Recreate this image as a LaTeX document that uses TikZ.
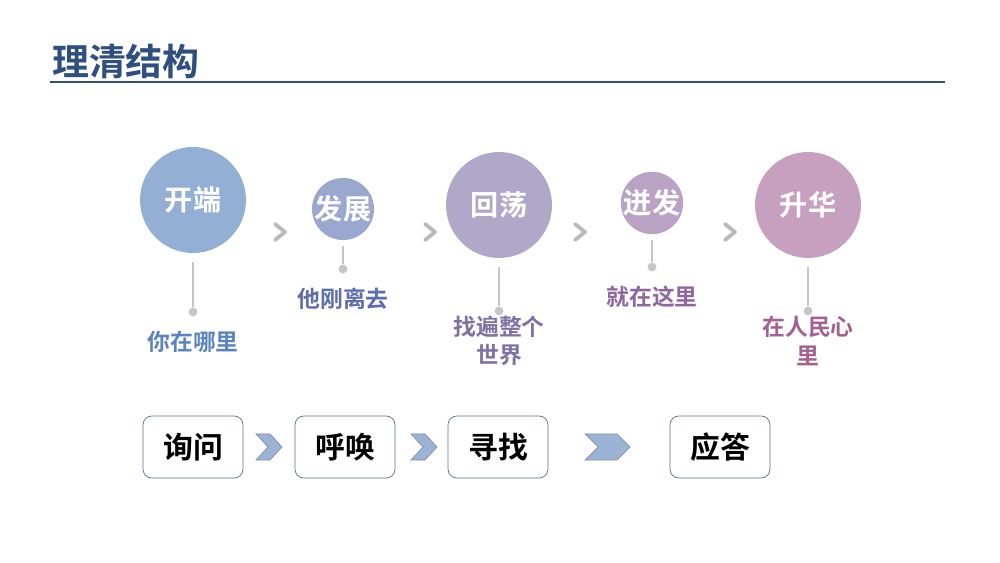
\documentclass[tikz,border=0pt]{standalone}
\usepackage{fontspec}
\setmainfont{Noto Sans CJK SC}[BoldFont=* Bold]
\usepackage{tikz}
\definecolor{titleBlue}{HTML}{2F4F7F}
\definecolor{chevBlue}{HTML}{9DB3D6}
\definecolor{boxLine}{HTML}{5A6B8C}
\tikzstyle{stage} = [circle, text=white, inner sep=0pt, font=\bfseries\fontsize{16}{16}\selectfont]
\tikzstyle{stem} = [draw, gray!45, line width=1.5pt]
\tikzstyle{tip} = [circle, fill=gray!45, inner sep=0pt, minimum size=5pt]
\tikzstyle{note} = [align=center, font=\bfseries\fontsize{13}{16}\selectfont]
\tikzstyle{word} = [rectangle, draw=boxLine, rounded corners=5pt, minimum width=2cm, minimum height=1.24cm, font=\bfseries\fontsize{17}{17}\selectfont]
\tikzstyle{chev} = [draw=gray!55, line width=2.2pt, line cap=round, line join=round]
\tikzstyle{bigchev} = [fill=chevBlue, draw=chevBlue!80!black]
\begin{document}
\begin{tikzpicture}[x=0.02cm, y=-0.02cm]
\useasboundingbox (0,0) rectangle (1000,563);
% Title
\node [anchor=west, text=titleBlue, font=\bfseries\fontsize{21}{21}\selectfont] (title) at (46,61) {理清结构};
\draw [titleBlue, line width=1.6pt] (50,82) -- (945,82);

% Place stages
\node [stage, fill={rgb,255:red,147;green,176;blue,212}, minimum size=2.12cm] (c1) at (193,200) {开端};
\node [stage, fill={rgb,255:red,154;green,168;blue,207}, minimum size=1.2cm] (c2) at (343,209) {发展};
\node [stage, fill={rgb,255:red,175;green,168;blue,201}, minimum size=2.12cm] (c3) at (499,205) {回荡};
\node [stage, fill={rgb,255:red,185;green,162;blue,196}, minimum size=1.2cm] (c4) at (652,203) {迸发};
\node [stage, fill={rgb,255:red,199;green,160;blue,191}, minimum size=2.12cm] (c5) at (808,205) {升华};

\node [tip] (d1) at (193,312) {};
\node [tip] (d2) at (343,269) {};
\node [tip] (d3) at (499,311) {};
\node [tip] (d4) at (652,267) {};
\node [tip] (d5) at (808,311) {};
\path [stem] ([yshift=-5pt]c1.south) -- (d1);
\path [stem] ([yshift=-3pt]c2.south) -- (d2);
\path [stem] ([yshift=-5pt]c3.south) -- (d3);
\path [stem] ([yshift=-3pt]c4.south) -- (d4);
\path [stem] ([yshift=-5pt]c5.south) -- (d5);

\node [note, text={rgb,255:red,91;green,132;blue,190}] (n1) at (193,342) {你在哪里};
\node [note, text={rgb,255:red,94;green,109;blue,174}] (n2) at (343,299) {他刚离去};
\node [note, text={rgb,255:red,126;green,113;blue,166}] (n3) at (499,341) {找遍整个\\世界};
\node [note, text={rgb,255:red,142;green,103;blue,158}] (n4) at (652,297) {就在这里};
\node [note, text={rgb,255:red,162;green,97;blue,143}] (n5) at (808,341) {在人民心\\里};

% Grey chevrons
\foreach \x in {280,430,580,730}
  \draw [chev] (\x-5,224) -- (\x+5,232) -- (\x-5,240);

% Word boxes
\node [word] (w1) at (193,447) {询问};
\node [word] (w2) at (345,447) {呼唤};
\node [word] (w3) at (498,447) {寻找};
\node [word] (w4) at (720,447) {应答};

% Blue chevrons
\path [bigchev] (256,434) -- (270,434) -- (282,447) -- (270,460) -- (256,460) -- (268,447) -- cycle;
\path [bigchev] (411,434) -- (425,434) -- (437,447) -- (425,460) -- (411,460) -- (423,447) -- cycle;
\path [bigchev] (585,434) -- (617,434) -- (630,447) -- (617,460) -- (585,460) -- (598,447) -- cycle;
\end{tikzpicture}
\end{document}
